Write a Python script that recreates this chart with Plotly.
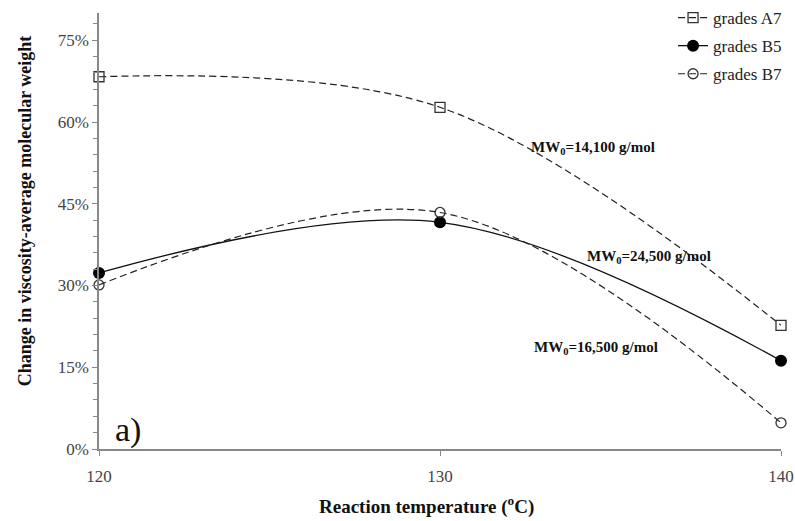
import plotly.graph_objects as go

temps = [120, 130, 140]
a7 = [68.3, 62.7, 22.7]
b5 = [32.3, 41.6, 16.2]
b7 = [30.1, 43.4, 4.8]
y_ticks = [0, 15, 30, 45, 60, 75]
y_ticktext = [f"{v}%" for v in y_ticks]
x_ticks = [120, 130, 140]

SERIF = "Liberation Serif, Times New Roman, serif"

fig = go.Figure()
fig.add_trace(go.Scatter(
    x=temps, y=a7, name="grades A7", mode="lines+markers", legendgroup="a",
    line=dict(color="#222", width=1.2, dash="7px,4px", shape="spline", smoothing=1),
    marker=dict(symbol="square-open", size=10, color="#333", line=dict(width=1.3)),
    cliponaxis=False))
fig.add_trace(go.Scatter(
    x=temps, y=b5, name="grades B5", mode="lines+markers", legendgroup="b",
    line=dict(color="#111", width=1.3, shape="spline", smoothing=1),
    marker=dict(symbol="circle", size=12, color="#000"),
    cliponaxis=False))
fig.add_trace(go.Scatter(
    x=temps, y=b7, name="grades B7", mode="lines+markers", legendgroup="c",
    line=dict(color="#222", width=1.2, dash="7px,4px", shape="spline", smoothing=1),
    marker=dict(symbol="circle-open", size=10, color="#333", line=dict(width=1.3)),
    cliponaxis=False))

ann_font = dict(family=SERIF, size=15, color="#111")
fig.add_annotation(x=132.6, y=55.2, text="<b>MW<sub>0</sub>=14,100 g/mol</b>",
                   showarrow=False, xanchor="left", yanchor="middle", font=ann_font)
fig.add_annotation(x=134.25, y=35.3, text="<b>MW<sub>0</sub>=24,500 g/mol</b>",
                   showarrow=False, xanchor="left", yanchor="middle", font=ann_font)
fig.add_annotation(x=132.7, y=18.5, text="<b>MW<sub>0</sub>=16,500 g/mol</b>",
                   showarrow=False, xanchor="left", yanchor="middle", font=ann_font)
fig.add_annotation(x=120.4, y=3.5, text="a)", showarrow=False, xanchor="left",
                   yanchor="middle", font=dict(family=SERIF, size=34, color="#111"))
# y-axis title
fig.add_annotation(xref="paper", yref="paper", x=-0.108, y=0.546, textangle=-90,
                   text="<b>Change in viscosity-average molecular weight</b>",
                   showarrow=False, xanchor="center", yanchor="middle",
                   font=dict(family=SERIF, size=18, color="#111"))
# x-axis title
fig.add_annotation(xref="paper", yref="paper", x=0.48, y=-0.13,
                   text="<b>Reaction temperature (<sup>o</sup>C)</b>",
                   showarrow=False, xanchor="center", yanchor="middle",
                   font=dict(family=SERIF, size=19, color="#111"))

fig.update_layout(
    width=795, height=521,
    margin=dict(l=99, r=14, t=13, b=72, autoexpand=False),
    plot_bgcolor="white", paper_bgcolor="white",
    font=dict(family=SERIF, size=15, color="#444"),
    showlegend=True,
    legend=dict(xref="container", yref="container", x=0.99, y=1.0,
                xanchor="right", yanchor="top",
                font=dict(family=SERIF, size=17, color="#222"),
                bgcolor="rgba(0,0,0,0)", itemwidth=30, tracegroupgap=3),
    xaxis=dict(range=[120, 140], tickvals=x_ticks, showgrid=False, zeroline=False,
               showline=True, linecolor="#888", linewidth=1.5,
               ticks="outside", ticklen=5, tickcolor="#888", ticklabelstandoff=6,
               tickfont=dict(family=SERIF, size=17, color="#444")),
    yaxis=dict(range=[0, 80], tickvals=y_ticks, ticktext=y_ticktext, showgrid=False,
               zeroline=False, showline=True, linecolor="#888", linewidth=1.5,
               ticks="outside", ticklen=5, tickcolor="#888",
               minor=dict(dtick=3, ticks="outside", ticklen=4, tickcolor="#888", showgrid=False),
               tickfont=dict(family=SERIF, size=17, color="#444")),
)

fig.write_html("out.html")
